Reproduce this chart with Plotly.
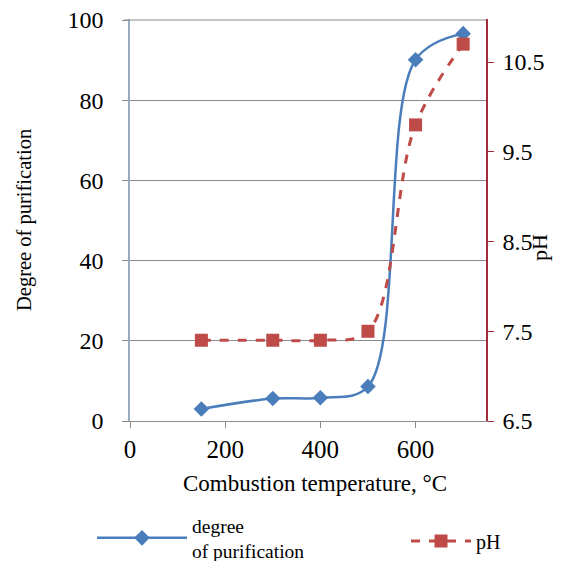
import plotly.graph_objects as go

temperature = [150, 300, 400, 500, 600, 700]
purification = [3.0, 5.6, 5.8, 8.6, 90.1, 96.6]
ph_values = [7.4, 7.4, 7.4, 7.5, 9.8, 10.7]

x_ticks = [0, 200, 400, 600]
y_ticks = [0, 20, 40, 60, 80, 100]
ph_ticks = [6.5, 7.5, 8.5, 9.5, 10.5]

BLUE = "#4a7ebb"
RED = "#be4b48"
FONT = "Liberation Serif"

fig = go.Figure()
fig.add_trace(go.Scatter(
    x=temperature, y=purification, name="degree<br>of purification",
    mode="lines+markers", line=dict(color=BLUE, width=2.5, shape="spline", smoothing=1.0),
    marker=dict(symbol="diamond", size=12, color=BLUE), yaxis="y", legend="legend"))
fig.add_trace(go.Scatter(
    x=temperature, y=ph_values, name="pH",
    mode="lines+markers", line=dict(color=RED, width=3, dash="dash", shape="spline", smoothing=1.0),
    marker=dict(symbol="square", size=13, color=RED), yaxis="y2", legend="legend2"))

H = 402.0
W = 356.0

fig.update_layout(
    width=566, height=553,
    margin=dict(l=122, r=88, t=11, b=140, autoexpand=False),
    paper_bgcolor="white", plot_bgcolor="white",
    font=dict(family=FONT, size=20, color="black"),
    showlegend=True,
    legend=dict(x=(92 - 130) / W, xanchor="left", y=-(538 - 421) / H, yanchor="middle",
                font=dict(family=FONT, size=19.5), itemwidth=90, bgcolor="rgba(0,0,0,0)"),
    legend2=dict(x=(406 - 130) / W, xanchor="left", y=-(541 - 421) / H, yanchor="middle",
                 font=dict(family=FONT, size=20), itemwidth=60, bgcolor="rgba(0,0,0,0)"),
    xaxis=dict(range=[0, 748], tickvals=x_ticks, ticktext=[str(v) for v in x_ticks],
               showgrid=False, showline=True, linecolor="#8c8c8c", linewidth=1.2,
               ticks="outside", ticklen=6, tickcolor="#8c8c8c", automargin=False,
               tickfont=dict(family=FONT, size=25), zeroline=False, ticklabelstandoff=0,
               ticklabeloverflow="allow"),
    yaxis=dict(range=[0, 100.25], tickvals=y_ticks, showgrid=True, gridcolor="#8c8c8c", gridwidth=1,
               showline=True, linecolor="#9aabbf", linewidth=1.5, ticks="outside", ticklen=6,
               tickcolor="#8c8c8c", tickfont=dict(family=FONT, size=24), zeroline=False,
               ticklabelstandoff=14, automargin=False, ticklabeloverflow="allow"),
    yaxis2=dict(range=[6.5, 10.98], tickvals=ph_ticks, ticktext=["6.5", "7.5", "8.5", "9.5", "10.5"],
                overlaying="y", side="right", showgrid=False, showline=True, automargin=False,
                linecolor="#a3293f", linewidth=1.5, ticks="outside", ticklen=6, tickcolor="#a3293f",
                tickfont=dict(family=FONT, size=24), zeroline=False, ticklabelstandoff=4,
                ticklabeloverflow="allow"),
    shapes=[dict(type="line", xref="paper", yref="paper", x0=-6 / W, x1=1,
                 y0=(421 - 20) / H, y1=(421 - 20) / H,
                 line=dict(color="#8c8c8c", width=1.2), layer="above")],
    annotations=[
        dict(text="pH", textangle=-90, xref="paper", yref="paper",
             x=(539 - 130) / W, y=(421 - 248) / H, xanchor="center", yanchor="middle",
             showarrow=False, font=dict(family=FONT, size=22)),
        dict(text="Degree of purification", textangle=-90, xref="paper", yref="paper",
             x=(24 - 130) / W, y=(421 - 220) / H, xanchor="center", yanchor="middle",
             showarrow=False, font=dict(family=FONT, size=20.5)),
        dict(text="Combustion temperature, °C", xref="paper", yref="paper",
             x=(315 - 130) / W, y=-(483 - 421) / H, xanchor="center", yanchor="middle",
             showarrow=False, font=dict(family=FONT, size=23)),
    ],
)

fig.write_html("out.html")
